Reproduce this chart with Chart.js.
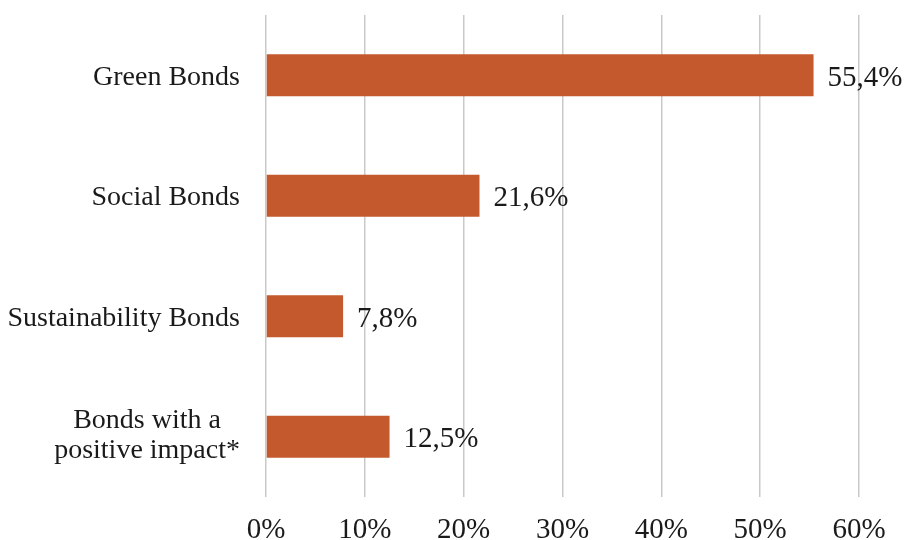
<!DOCTYPE html>
<html>
<head>
<meta charset="utf-8">
<script src="https://cdn.jsdelivr.net/npm/chart.js@4"></script>
<style>
  html, body { margin: 0; padding: 0; background: #fff; }
  #wrap { width: 905px; height: 540px; position: relative; }
</style>
</head>
<body>
<div id="wrap"><canvas id="c" width="905" height="540"></canvas></div>
<script>
// Share of issuance by bond type (%)
const categories = [
  ["Green Bonds"],
  ["Social Bonds"],
  ["Sustainability Bonds"],
  ["Bonds with a", "positive impact*"]
];
const shares = [55.4, 21.6, 7.8, 12.5];
const xTicks = [0, 10, 20, 30, 40, 50, 60];

const fmt = v => v.toFixed(1).replace('.', ',') + '%';
const FONT = '"Liberation Serif", "DejaVu Serif", serif';
const INK = '#1a1a1a';

// Value labels at the end of each bar, and category labels whose
// lines are centred on one another while the block sits right-aligned
const annotate = {
  id: 'annotate',
  afterDatasetsDraw(chart) {
    const ctx = chart.ctx;
    const meta = chart.getDatasetMeta(0);
    const yScale = chart.scales.y;
    ctx.save();
    ctx.fillStyle = INK;
    ctx.textBaseline = 'middle';

    ctx.font = '29px ' + FONT;
    ctx.textAlign = 'left';
    meta.data.forEach((bar, i) => {
      ctx.fillText(fmt(shares[i]), bar.x + 14, bar.y + 3);
    });

    ctx.font = '28px ' + FONT;
    ctx.textAlign = 'center';
    const rightEdge = yScale.right - 26;
    const lineH = 30;
    categories.forEach((lines, i) => {
      const yc = yScale.getPixelForTick(i);
      const w = Math.max(...lines.map(s => ctx.measureText(s).width));
      const xc = rightEdge - w / 2;
      const shift = lines.length > 1 ? -1 : 2;
      const y0 = yc - (lines.length - 1) * lineH / 2;
      lines.forEach((s, k) => ctx.fillText(s, xc, y0 + k * lineH + shift));
    });
    ctx.restore();
  }
};

new Chart(document.getElementById('c'), {
  type: 'bar',
  data: {
    labels: categories,
    datasets: [{
      data: shares,
      backgroundColor: '#C5592E',
      borderWidth: 0,
      categoryPercentage: 1,
      barPercentage: 0.35
    }]
  },
  options: {
    indexAxis: 'y',
    responsive: false,
    animation: false,
    layout: { padding: { top: 15, right: 46, bottom: 0, left: 0 } },
    plugins: { legend: { display: false }, tooltip: { enabled: false } },
    scales: {
      x: {
        min: 0, max: 60,
        afterBuildTicks(axis) { axis.ticks = xTicks.map(v => ({ value: v })); },
        grid: { color: '#c9c9c9', lineWidth: 1.5, drawTicks: false },
        border: { display: false },
        ticks: {
          padding: 16,
          color: INK,
          font: { family: FONT, size: 29 },
          callback: v => v + '%'
        },
        afterFit(axis) {
          axis.height = 43;
          axis.paddingLeft = 0;
          axis.paddingRight = 0;
        }
      },
      y: {
        grid: { display: false, drawTicks: false },
        border: { display: false },
        ticks: { display: false },
        afterFit(axis) {
          axis.width = 266;
          axis.paddingTop = 0;
          axis.paddingBottom = 0;
        }
      }
    }
  },
  plugins: [annotate]
});
</script>
</body>
</html>
